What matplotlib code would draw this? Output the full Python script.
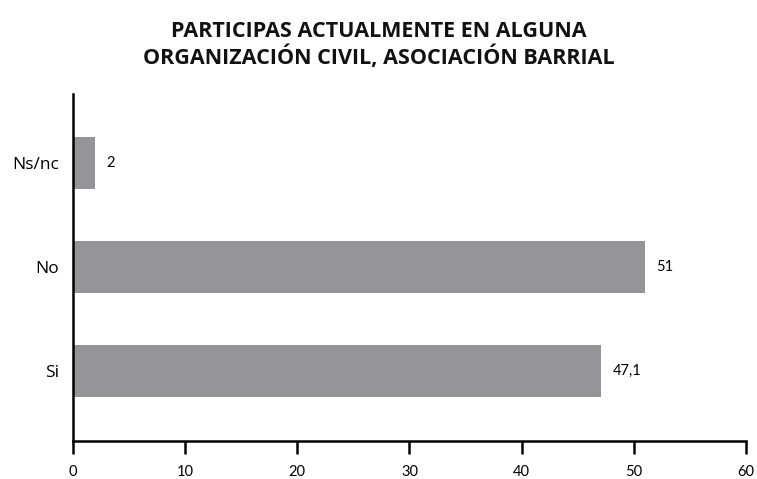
import matplotlib
matplotlib.use("Agg")
import matplotlib.pyplot as plt

categories = ["Si", "No", "Ns/nc"]
values = [47.1, 51, 2]
value_labels = ["47,1", "51", "2"]
xticks = [0, 10, 20, 30, 40, 50, 60]

plt.rcParams['font.family'] = ['Open Sans', 'DejaVu Sans']

fig = plt.figure(figsize=(7.57, 4.79), dpi=100)
ax = fig.add_axes([0.0964, 0.0793, 0.8891, 0.7245])

pos = list(range(len(categories)))
ax.barh(pos, values, height=0.5, color="#939598")
for p, v, lab in zip(pos, values, value_labels):
    ax.annotate(lab, (v, p), xytext=(8, 0), textcoords="offset points",
                va="center", ha="left", fontsize=10.5, color="#000000",
                family=['Lato', 'DejaVu Sans'])

ax.set_xlim(0, 60)
ax.set_ylim(-0.673, 2.663)
ax.set_xticks(xticks)
ax.set_xticklabels([str(t) for t in xticks], fontsize=10.5, family=['Lato', 'DejaVu Sans'])
ax.set_yticks(pos)
ax.set_yticklabels(categories, fontsize=12.5)
ax.tick_params(axis='y', length=0, pad=10)
ax.tick_params(axis='x', length=9, width=1.8, direction='out', pad=8)

for s in ["top", "right"]:
    ax.spines[s].set_visible(False)
for s in ["left", "bottom"]:
    ax.spines[s].set_linewidth(1.8)

fig.text(0.5, 0.906, "PARTICIPAS ACTUALMENTE EN ALGUNA\nORGANIZACIÓN CIVIL, ASOCIACIÓN BARRIAL",
         ha="center", va="center", fontsize=15.5, fontweight="bold", linespacing=1.2, color="#111111")

fig.savefig("out.png", dpi=100)
